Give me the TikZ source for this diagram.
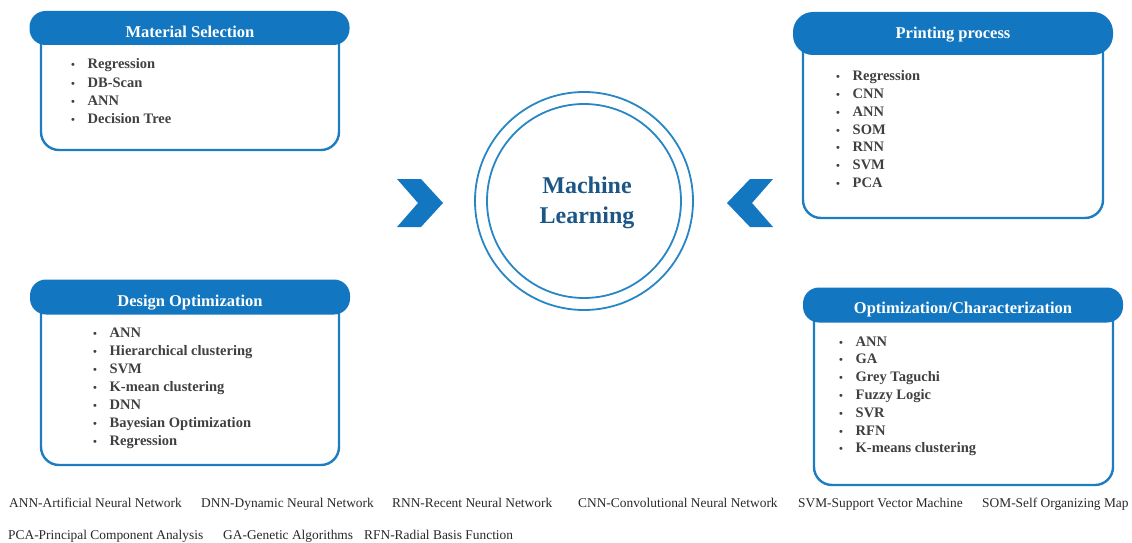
\documentclass[tikz,border=0pt]{standalone}
\usepackage{fontspec}
\setmainfont{Liberation Serif}
\definecolor{hdrblue}{RGB}{18,119,192}
\definecolor{boxblue}{RGB}{30,125,193}
\definecolor{ringblue}{RGB}{40,134,196}
\definecolor{mltext}{RGB}{28,86,134}
\definecolor{itemgray}{RGB}{64,64,64}
\definecolor{notegray}{RGB}{40,40,40}
\newcommand{\itm}[1]{\makebox[16.5pt][l]{\fontsize{11}{11}\selectfont\textbullet}#1}
\begin{document}
\begin{tikzpicture}[x=1pt,y=-1pt,
  hdr/.style={fill=hdrblue, rounded corners=16pt, inner sep=0pt},
  ttl/.style={text=white, inner sep=0pt, text height=11pt, text depth=0pt,
    font=\bfseries\fontsize{16.5}{20}\selectfont},
  bodyline/.style={draw=boxblue, line width=2.4pt, rounded corners=18pt},
  item/.style={anchor=west, inner sep=0pt, text=itemgray, text height=10pt, text depth=0pt,
    font=\bfseries\fontsize{14.5}{18}\selectfont},
  ring/.style={circle, draw=ringblue, line width=1.8pt, inner sep=0pt},
  chev/.style={fill=hdrblue},
  note/.style={anchor=base west, inner sep=0pt, text=notegray,
    font=\fontsize{13.4}{15}\selectfont}]
\useasboundingbox (0,0) rectangle (1132,543);

% ---- Material Selection
\draw[bodyline] (41,28) -- (41,150) -- (339,150) -- (339,28);
\node[hdr, minimum width=320pt, minimum height=34pt] (msh) at (189.5,28) {};
\node[ttl] (mst) at (190,32) {Material Selection};
\foreach \t [count=\i] in {Regression,DB-Scan,ANN,Decision Tree}
  \node[item] (ms\i) at (71,{64+18*(\i-1)}) {\itm{\t}};

% ---- Printing process
\draw[bodyline] (803,33) -- (803,218) -- (1103,218) -- (1103,33);
\node[hdr, minimum width=320pt, minimum height=43pt, rounded corners=20pt] (pph) at (953,33.5) {};
\node[ttl] (ppt) at (953,33.5) {Printing process};
\foreach \t [count=\i] in {Regression,CNN,ANN,SOM,RNN,SVM,PCA}
  \node[item] (pp\i) at (836,{76+17.7*(\i-1)}) {\itm{\t}};

% ---- Design Optimization
\draw[bodyline] (41,297) -- (41,465) -- (339,465) -- (339,297);
\node[hdr, minimum width=320pt, minimum height=35pt] (doh) at (190,297) {};
\node[ttl] (dot) at (190,300.5) {Design Optimization};
\foreach \t [count=\i] in {ANN,Hierarchical clustering,SVM,K-mean clustering,DNN,Bayesian Optimization,Regression}
  \node[item] (do\i) at (93,{332+18*(\i-1)}) {\itm{\t}};

% ---- Optimization/Characterization
\draw[bodyline] (814,305) -- (814,485) -- (1113,485) -- (1113,305);
\node[hdr, minimum width=320pt, minimum height=35pt] (och) at (963,305) {};
\node[ttl] (oct) at (963,308) {Optimization/Characterization};
\foreach \t [count=\i] in {ANN,GA,Grey Taguchi,Fuzzy Logic,SVR,RFN,K-means clustering}
  \node[item] (oc\i) at (839,{341+17.8*(\i-1)}) {\itm{\t}};

% ---- Machine Learning
\node[ring, minimum size=218pt] (mlo) at (584,201) {};
\node[ring, minimum size=194pt] (mli) at (584,201) {};
\node[align=center, text=mltext, font=\bfseries\fontsize{24}{30}\selectfont] (ml) at (587,203) {Machine\\Learning};

% ---- chevrons
\fill[chev] (397,179) -- (421,179) -- (443,203) -- (421,227) -- (397,227) -- (418,203) -- cycle;
\fill[chev] (773,179) -- (750,179) -- (727,203) -- (750,227) -- (773,227) -- (752,203) -- cycle;

% ---- footnotes
\node[note] (n1) at (9,507) {ANN-Artificial Neural Network};
\node[note] (n2) at (201,507) {DNN-Dynamic Neural Network};
\node[note] (n3) at (392,507) {RNN-Recent Neural Network};
\node[note] (n4) at (578,507) {CNN-Convolutional Neural Network};
\node[note] (n5) at (798,507) {SVM-Support Vector Machine};
\node[note] (n6) at (982,507) {SOM-Self Organizing Map};
\node[note] (n7) at (8,539) {PCA-Principal Component Analysis};
\node[note] (n8) at (223,539) {GA-Genetic Algorithms};
\node[note] (n9) at (364,539) {RFN-Radial Basis Function};
\end{tikzpicture}
\end{document}
